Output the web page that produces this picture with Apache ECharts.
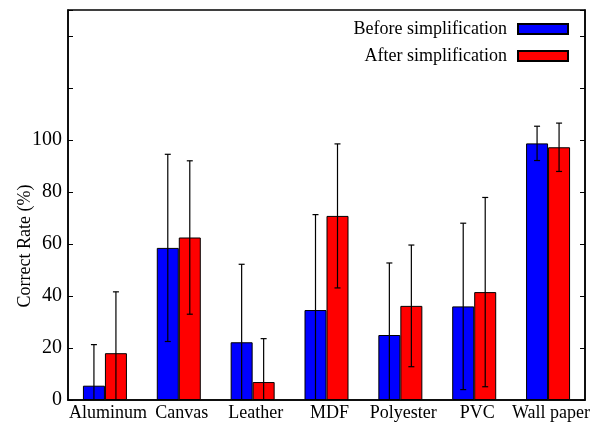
<!DOCTYPE html>
<html>
<head>
<meta charset="utf-8">
<script src="https://cdn.jsdelivr.net/npm/echarts@6/dist/echarts.min.js"></script>
<style>
  html, body { margin: 0; padding: 0; background: #fff; }
  #main { width: 603px; height: 423px; }
</style>
</head>
<body>
<div id="main"></div>
<script>
var chart = echarts.init(document.getElementById('main'));

var materials = ['Aluminum', 'Canvas', 'Leather', 'MDF', 'Polyester', 'PVC', 'Wall paper'];
var beforeRate = [5.5, 58.5, 22.2, 34.6, 25, 36, 98.7];
var beforeErr = [15.8, 36, 30, 36.7, 27.7, 32, 6.6];
var afterRate = [18, 62.5, 6.9, 70.8, 36.2, 41.5, 97.2];
var afterErr = [23.6, 29.5, 16.7, 27.7, 23.4, 36.4, 9.3];
var yTicks = [0, 20, 40, 60, 80, 100];

var font = 'Liberation Serif';
var barW = 22;

function errorSeries(name, vals, errs, shift) {
  var data = vals.map(function (v, i) { return [i, v - errs[i], v + errs[i]]; });
  return {
    name: name + ' err',
    type: 'custom',
    z: 5,
    silent: true,
    renderItem: function (params, api) {
      var i = api.value(0);
      var lo = api.value(1), hi = api.value(2);
      var clipped = lo < 0;
      if (clipped) lo = 0;
      var pLo = api.coord([i, lo]);
      var pHi = api.coord([i, hi]);
      var x = pLo[0] + shift;
      var st = { stroke: '#000', lineWidth: 1.2 };
      var kids = [
        { type: 'line', shape: { x1: x, y1: pLo[1], x2: x, y2: pHi[1] }, style: st },
        { type: 'line', shape: { x1: x - 3, y1: pHi[1], x2: x + 3, y2: pHi[1] }, style: st }
      ];
      if (!clipped) {
        kids.push({ type: 'line', shape: { x1: x - 3, y1: pLo[1], x2: x + 3, y2: pLo[1] }, style: st });
      }
      return { type: 'group', children: kids };
    },
    encode: { x: 0, y: [1, 2] },
    data: data
  };
}

var legendCommon = {
  right: 29,
  align: 'right',
  icon: 'rect',
  itemWidth: 50,
  itemHeight: 10,
  selectedMode: false,
  textStyle: { fontFamily: font, fontSize: 18, color: '#000', padding: [0, 6, 0, 0] }
};

var option = {
  animation: false,
  textStyle: { fontFamily: font },
  grid: {
    left: 68, right: 18, top: 10, bottom: 23,
    outerBoundsMode: 'none',
    show: true, borderColor: '#000', borderWidth: 1.5
  },
  legend: [
    Object.assign({ top: 15, data: ['Before simplification'] }, legendCommon),
    Object.assign({ top: 42, data: ['After simplification'] }, legendCommon)
  ],
  xAxis: {
    type: 'category',
    data: materials,
    axisLine: { lineStyle: { color: '#000', width: 1.5 } },
    axisTick: { show: false },
    axisLabel: { color: '#000', fontFamily: font, fontSize: 18, margin: 4, interval: 0, padding: [0, 0, 0, 6] }
  },
  yAxis: [{
    type: 'value',
    min: 0, max: 150, interval: 20,
    name: 'Correct Rate (%)',
    nameLocation: 'middle',
    nameGap: 34,
    nameMoveOverlap: false,
    nameTextStyle: { fontFamily: font, fontSize: 18, color: '#000', padding: [0, 82, 0, 0] },
    axisLine: { show: true, lineStyle: { color: '#000', width: 1.5 } },
    axisTick: { show: true, inside: true, length: 5, lineStyle: { color: '#000' } },
    axisLabel: {
      color: '#000', fontFamily: font, fontSize: 20, margin: 6,
      formatter: function (v) { return yTicks.indexOf(v) >= 0 ? String(v) : ''; }
    },
    splitLine: { show: false }
  }, {
    type: 'value',
    position: 'right',
    min: 0, max: 150, interval: 20,
    axisLine: { show: true, lineStyle: { color: '#000', width: 1.5 } },
    axisTick: { show: true, inside: true, length: 5, lineStyle: { color: '#000' } },
    axisLabel: { show: false },
    splitLine: { show: false }
  }],
  series: [{
    name: 'Before simplification',
    type: 'bar',
    barWidth: barW,
    barGap: '0%',
    itemStyle: { color: '#0000ff', borderColor: '#000', borderWidth: 1 },
    data: beforeRate
  }, {
    name: 'After simplification',
    type: 'bar',
    barWidth: barW,
    barGap: '0%',
    itemStyle: { color: '#ff0000', borderColor: '#000', borderWidth: 1 },
    data: afterRate
  },
  errorSeries('Before simplification', beforeRate, beforeErr, -barW / 2),
  errorSeries('After simplification', afterRate, afterErr, barW / 2)]
};

chart.setOption(option);
</script>
</body>
</html>
